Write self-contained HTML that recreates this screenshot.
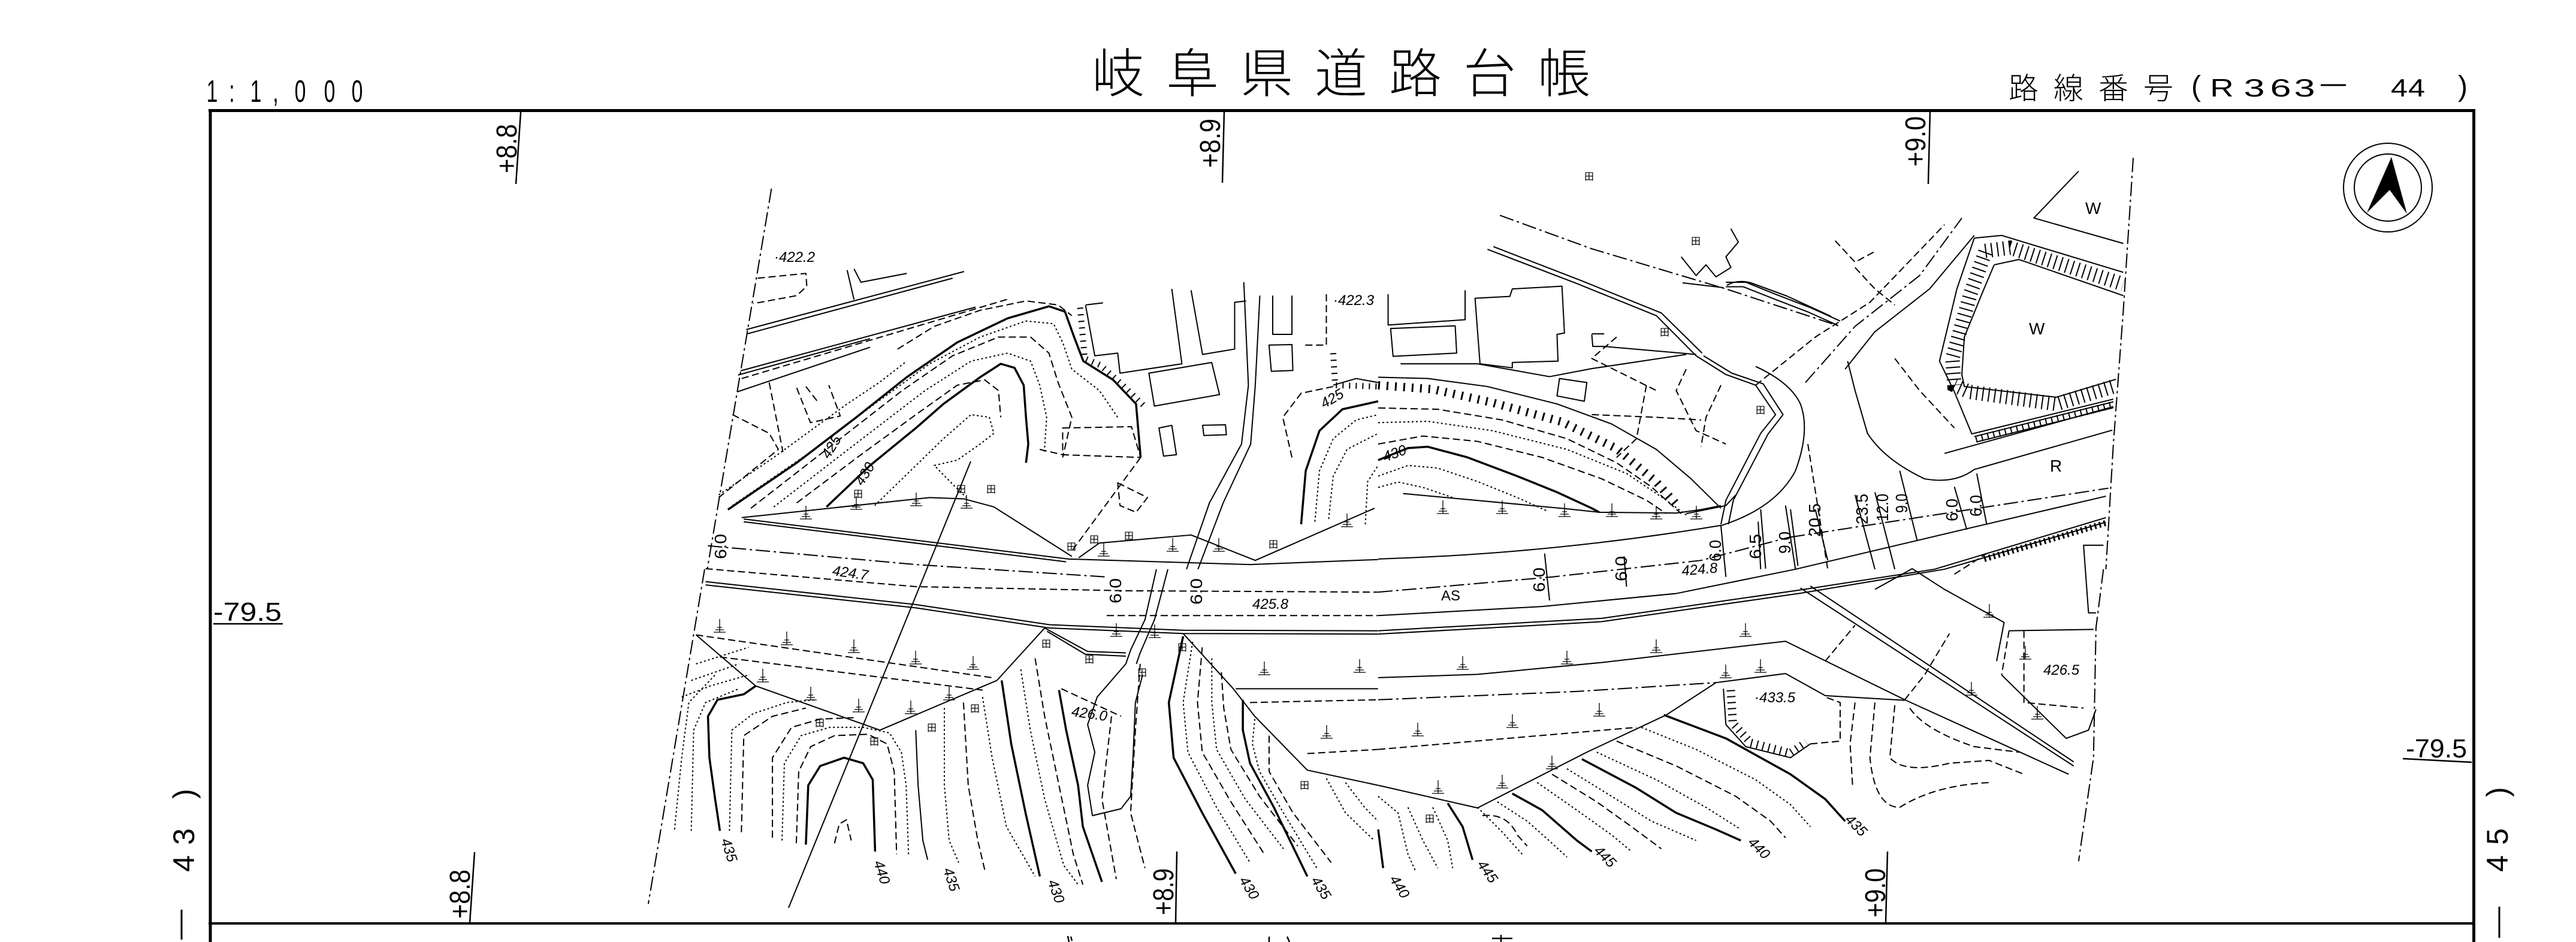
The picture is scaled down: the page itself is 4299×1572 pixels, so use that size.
<!DOCTYPE html>
<html><head><meta charset="utf-8">
<style>
html,body{margin:0;padding:0;background:#fff;}
body{width:4299px;height:1572px;overflow:hidden;}
svg{display:block;}
.l{fill:none;stroke:#000;stroke-width:2;vector-effect:non-scaling-stroke;stroke-linejoin:round;}
.b{stroke-width:3.5;}
.d{stroke-dasharray:12 6;}
.o{stroke-dasharray:3 4;}
.dd{stroke-dasharray:24 6 4 6;}
.h{fill:none;stroke:#000;vector-effect:non-scaling-stroke;stroke-linecap:butt;}
.t{font-family:"Liberation Sans","Noto Sans CJK JP",sans-serif;fill:#000;}
.m{font-family:"Liberation Sans",sans-serif;font-style:italic;fill:#000;font-size:24px;}
.n{font-family:"Liberation Sans",sans-serif;fill:#000;font-size:28px;}
.k{font-family:"Liberation Sans","Noto Sans CJK JP",sans-serif;fill:#000;font-size:16px;}
</style></head><body>
<svg width="4299" height="1572" viewBox="0 0 4299 1572" xmlns="http://www.w3.org/2000/svg">
<defs>
<g id="tk"><path d="M0,-22 V0 M-10,0 H10 M-7,-4 H7 M-4,-8 H4" stroke="#000" stroke-width="1.3" fill="none"/></g>
</defs>
<rect width="4299" height="1572" fill="#fff"/>

<!-- FRAME -->
<line x1="348" y1="184.5" x2="4131" y2="184.5" stroke="#000" stroke-width="5"/>
<line x1="351" y1="182" x2="351" y2="1572" stroke="#000" stroke-width="5"/>
<line x1="4128.5" y1="182" x2="4128.5" y2="1572" stroke="#000" stroke-width="5"/>
<line x1="348" y1="1541" x2="4131" y2="1541" stroke="#000" stroke-width="4"/>

<!-- HEADER TEXT -->
<g class="t" font-size="52">
<text transform="translate(354,170) scale(0.65,1)" text-anchor="middle">1</text>
<text transform="translate(387,170) scale(0.65,1)" text-anchor="middle">:</text>
<text transform="translate(427,170) scale(0.65,1)" text-anchor="middle">1</text>
<text transform="translate(460,170) scale(0.65,1)" text-anchor="middle">,</text>
<text transform="translate(501,170) scale(0.65,1)" text-anchor="middle">0</text>
<text transform="translate(550,170) scale(0.65,1)" text-anchor="middle">0</text>
<text transform="translate(596,170) scale(0.65,1)" text-anchor="middle">0</text>
</g>
<text class="t" font-size="88" font-weight="300" x="1822 1946 2070 2194 2318 2442 2566" y="154">岐阜県道路台帳</text>
<text class="t" font-size="50" font-weight="300" x="3352 3427 3502 3577" y="165">路線番号</text>
<g class="t" font-size="42">
<text x="3657" y="160" font-size="48">(</text>
<text transform="translate(3708,161) scale(1.3,1)" text-anchor="middle">R</text>
<text transform="translate(3762,161) scale(1.5,1)" text-anchor="middle">3</text>
<text transform="translate(3806,161) scale(1.5,1)" text-anchor="middle">6</text>
<text transform="translate(3846,161) scale(1.5,1)" text-anchor="middle">3</text>
<text transform="translate(4004,161) scale(1.2,1)" text-anchor="middle">4</text>
<text transform="translate(4033,161) scale(1.2,1)" text-anchor="middle">4</text>
<text x="4102" y="160" font-size="48">)</text>
</g>
<line x1="3873" y1="142" x2="3915" y2="142" stroke="#000" stroke-width="3"/>

<!-- North arrow -->
<circle cx="3985" cy="313" r="74" fill="none" stroke="#000" stroke-width="2"/>
<circle cx="3985" cy="313" r="56" fill="none" stroke="#000" stroke-width="2"/>
<polygon points="3991,262 3950,355 3988,317 4017,357" fill="#000"/>

<!-- Side labels -->
<g class="t" font-size="50">
<text transform="translate(324,1455) rotate(-90)">4</text>
<text transform="translate(324,1410) rotate(-90)">3</text>
<text transform="translate(324,1333) rotate(-90)">)</text>
<text transform="translate(4185,1455) rotate(-90)">4</text>
<text transform="translate(4185,1410) rotate(-90)">5</text>
<text transform="translate(4185,1330) rotate(-90)">)</text>
</g>
<line x1="303" y1="1518" x2="303" y2="1568" stroke="#000" stroke-width="3"/>
<line x1="4171" y1="1513" x2="4171" y2="1565" stroke="#000" stroke-width="3"/>

<!-- Station labels -->
<g class="t" font-size="48">
<text transform="translate(862,289) rotate(-90)" textLength="82" lengthAdjust="spacingAndGlyphs">+8.8</text>
<text transform="translate(2036,280) rotate(-90)" textLength="82" lengthAdjust="spacingAndGlyphs">+8.9</text>
<text transform="translate(3213,278) rotate(-90)" textLength="84" lengthAdjust="spacingAndGlyphs">+9.0</text>
<text transform="translate(784,1533) rotate(-90)" textLength="82" lengthAdjust="spacingAndGlyphs">+8.8</text>
<text transform="translate(1958,1527) rotate(-90)" textLength="78" lengthAdjust="spacingAndGlyphs">+8.9</text>
<text transform="translate(3146,1531) rotate(-90)" textLength="82" lengthAdjust="spacingAndGlyphs">+9.0</text>
</g>
<g stroke="#000" stroke-width="2.5" fill="none">
<path d="M869,187 L861,307"/>
<path d="M2043,186 L2040,305"/>
<path d="M3221,186 L3218,307"/>
<path d="M792,1422 L784,1540"/>
<path d="M1964,1421 L1962,1540"/>
<path d="M3150,1421 L3147,1540"/>
<path d="M356,1041 L472,1041"/>
<path d="M4010,1266 L4125,1272"/>
<path d="M1782,1562 L1784,1572 M1787,1563 L1789,1570 M2118,1563 L2118,1572 M2148,1563 L2152,1572 M2490,1566 L2524,1566 M2505,1560 L2505,1572"/>
</g>
<text class="t" font-size="44" x="356" y="1036" textLength="114" lengthAdjust="spacingAndGlyphs">-79.5</text>
<text class="t" font-size="44" x="4015" y="1264" textLength="102" lengthAdjust="spacingAndGlyphs">-79.5</text>

<!-- ===== MAP: Z3 region (top-left) ===== -->
<g transform="matrix(0.7653 0 0 0.4464 1100 250)">
<path class="l dd" d="M245,145 L105,1568"/>
<path class="l d" d="M215,480 L320,462 L322,510 L300,545 L205,575"/>
<path class="l" d="M410,450 L425,560 M425,445 L440,495 L540,462"/>
<path class="l" d="M190,672 L665,455 M192,688 L640,480"/>
<path class="l" d="M178,826 L690,588 M172,842 L460,706"/>
<path class="l d" d="M180,855 L765,556"/>
<path class="l" d="M170,905 L460,738"/>
<path class="l d" d="M160,990 L240,1060 L260,1120 L130,1300 M240,870 L270,1130 M300,890 L330,1020 L395,995 L370,880 M320,885 L345,940"/>
<path class="l b" d="M150,1345 L300,1170 L430,1000 L540,850 L650,720 L760,630 L850,585 L885,605 L905,700 L925,790 L990,860 L1040,950 L1050,1150"/>
<path class="l b" d="M365,1335 L460,1180 L560,1040 L620,950 L700,850 L745,800 L775,815 L795,880 L800,1000 L805,1100 L800,1170"/>
<path class="l o" d="M160,1330 L330,1130 L470,950 L590,800 L700,700 L800,640 L860,650 L880,720 L900,820 L960,900 L1000,1000"/>
<path class="l d" d="M200,1340 L380,1100 L530,900 L640,770 L740,700 L810,700 L850,760 L870,870 L900,1000 L880,1150"/>
<path class="l o" d="M250,1335 L420,1110 L580,900 L680,790 L760,760 L810,790 L830,880 L845,1000 L840,1130"/>
<path class="l d" d="M300,1320 L440,1140 L560,990 L650,880 L710,860 L740,900 L745,1000"/>
<path class="l o" d="M470,1330 L560,1180 L620,1080 L680,990 L720,1000 L730,1060 L700,1100 L650,1160 L600,1180 L640,1250 L670,1300"/>
<path class="l o" d="M130,1290 L250,1150 L330,1050 L410,950 L480,870 L540,790"/>
<path class="l d" d="M520,745 L600,660 L700,600 L800,565 L870,580 L900,620"/>
<path class="h" style="stroke-width:10;stroke-dasharray:2 9" d="M918,590 L928,780 L962,805 L1010,878 L1062,965"/>
<path class="l" d="M930,580 L968,572 M930,582 L950,770 L1000,760 L1005,835 L1140,800 L1118,520"/>
<path class="l" d="M1160,525 L1185,765 L1255,745 L1255,570 L1280,565"/>
<path class="l" d="M1068,835 L1205,795 L1222,915 L1080,958 Z"/>
<path class="l" d="M1090,1040 L1118,1030 L1128,1140 L1100,1145 Z M1185,1030 L1235,1028 L1237,1065 L1188,1068 Z M1330,730 L1380,728 L1382,825 L1335,828 Z"/>
<path class="l" d="M1338,545 L1338,690 L1380,690 L1380,545"/>
<path class="l d" d="M1455,540 L1455,730 L1405,730 M880,1040 L1030,1035 L1050,1150 L880,1140 Z M830,1120 L880,1140 M1000,1245 L1065,1300 L1040,1355 L1005,1330 Z M1050,1150 L900,1500"/>
<path class="l" d="M1275,495 L1285,880 L1270,1100 L1200,1320 L1150,1568 M1310,545 L1300,880 L1290,1100 L1230,1320 L1175,1568"/>
<path class="l" d="M1470,880 L1520,855 L1568,870"/>
<path class="l b" d="M1400,1400 L1410,1200 L1440,1050 L1490,970 L1568,940"/>
<path class="l o" d="M1430,1390 L1440,1200 L1470,1080 L1520,1010 L1568,990 M1460,1380 L1470,1220 L1500,1120 L1568,1060 M1540,1400 L1545,1240 L1568,1180"/>
<path class="l d" d="M1380,1150 L1360,1000 L1400,910 L1470,885"/>
<path class="h" style="stroke-width:10;stroke-dasharray:2 9" d="M1470,760 L1474,880 L1568,885"/>
<path class="l" d="M180,1375 L590,1300 L665,1305 L730,1335 L900,1520"/>
<path class="l" d="M915,1525 L960,1470 L1160,1440 L1300,1535 L1560,1340"/>
</g>

<!-- ===== MAP: Z4 region (top-right) ===== -->
<g transform="matrix(0.829 0 0 0.4464 2300 250)">
<path class="l dd" d="M1520,30 L1500,600 L1480,1100 L1465,1568"/>
<path class="l" d="M1410,80 L1320,255 L1500,350"/>
<path class="l" d="M1200,330 L1255,320 L1500,458 M1200,330 L1165,520 L1130,790 L1160,905 L1195,1062 L1480,932"/>
<path class="l" d="M1240,430 L1290,410 L1500,545 M1240,430 L1215,540 L1180,700 L1175,840 L1180,885 L1365,925 L1485,858"/>
<path class="h" style="stroke-width:24;stroke-dasharray:2 8" d="M1222,378 L1272,366 L1500,502 M1222,382 L1192,540 L1156,780 L1160,880 L1190,905 L1365,950 L1485,882"/>
<path class="l" d="M1200,1072 L1480,942 M1205,1092 L1480,964"/>
<path class="h" style="stroke-width:12;stroke-dasharray:2 8" d="M1203,1082 L1480,953"/>
<path class="l" d="M940,820 L1000,680 L1110,520 L1200,320"/>
<path class="l dd" d="M860,870 L960,660 L1090,470 L1175,255"/>
<path class="l d" d="M760,880 L880,700 L990,570 L1140,280"/>
<path class="l" d="M220,372 L400,500 L560,620 L640,770 M232,362 L410,490 L570,610 L652,760"/>
<path class="l dd" d="M245,245 L430,370 L700,520 L930,660"/>
<path class="l" d="M700,495 L740,495 L800,540 L870,590 L930,640 M700,512 L735,512 L795,556 L865,606 L925,656"/>
<path class="l" d="M640,770 L700,840 L760,880 L800,990 L770,1060 L700,1310 L690,1400 M655,770 L712,835 L775,875 L815,990 L785,1062 L715,1310 L705,1400"/>
<path class="l" d="M690,1405 Q800,1340 840,1200 Q870,1050 850,950 Q830,870 760,810"/>
<path class="l" d="M945,790 L960,900 L985,1060 Q1020,1160 1100,1230 Q1160,1250 1200,1195 L1478,1048"/>
<path class="l" d="M1140,1135 L1480,960"/>
<path class="l dd" d="M830,1448 L1470,1265"/>
<path class="l" d="M840,1568 L1200,1410 L1465,1295"/>
<path class="l" d="M1120,1568 L1465,1375 M1140,1568 L1465,1392"/>
<path class="h" style="stroke-width:10;stroke-dasharray:3 5" d="M1220,1530 L1465,1395"/>
<path class="l" d="M0,850 L100,855 L220,885 L360,950 L470,1025 L560,1120 L630,1230 L690,1340"/>
<path class="h" style="stroke-width:14;stroke-dasharray:3 11" d="M0,880 L110,895 L230,945 L370,1017 L480,1117 L560,1242 L605,1335"/>
<path class="l d" d="M0,965 L120,970 L250,1010 L380,1080 L480,1170 L550,1260 L610,1360"/>
<path class="l o" d="M0,1020 L100,1015 L230,1050 L380,1120 L500,1210 L580,1310 L620,1365"/>
<path class="l d" d="M0,1100 L90,1070 L200,1090 L330,1150 L450,1230 L540,1310 L580,1360"/>
<path class="l b" d="M0,1160 L60,1115 L100,1110 L180,1150 L280,1220 L360,1280 L430,1340 L445,1355"/>
<path class="l o" d="M0,1220 L60,1180 L120,1190 L200,1240 L280,1300 L340,1350 M0,1262 L40,1242 L90,1262 L150,1300"/>
<path class="l" d="M50,1285 L380,1342 L445,1355 L600,1358 L650,1345 L690,1330 M620,1360 L700,1330 L720,1290"/>
<path class="l" d="M20,540 L20,655 L175,635 L175,525"/>
<path class="l" d="M25,668 L155,658 L158,760 L30,772 Z"/>
<path class="l" d="M195,555 L265,548 L270,520 L370,510 L375,685 L360,690 L362,790 L270,795 L270,815 L205,800 Z"/>
<path class="l" d="M430,688 L455,688 M430,690 L432,735 L455,735 L640,765"/>
<path class="l" d="M45,800 L200,800 L345,848 L430,818 L620,765"/>
<path class="l" d="M365,855 L420,870 L415,940 L360,920 Z"/>
<path class="l" d="M610,400 L640,470 L660,430 L680,475 L710,440 L700,400 L725,345 L710,295"/>
<path class="l d" d="M430,990 L560,1000 L650,1010 M540,880 L520,1080 L480,1150 M620,820 L600,900 L640,1050 L700,1100 M690,880 L660,1000 L650,1110 M480,700 L430,780 L560,900 M920,340 L960,420 L1000,380 M960,440 L1000,520 L1040,580 M1040,780 L1090,900 L1160,1040"/>
<path class="l" d="M765,1390 L770,1568 M820,1330 L840,1568 M960,1290 L1000,1568 M1000,1280 L1040,1568 M1050,1200 L1085,1460 M1160,1260 L1185,1420 M1205,1210 L1225,1400"/>
<path class="l d" d="M865,1100 L905,1568"/>
</g>

<!-- extra junction loop detail (original coords) -->
<path class="l" d="M2808,472 L2876,480 M2882,476 Q2900,466 2922,472 L2982,494 L3056,528"/>

<!-- ===== MAP: Z5 region (bottom-left) ===== -->
<g transform="matrix(0.797 0 0 0.4605 1050 850)">
<path class="l dd" d="M158,217 L40,1430"/>
<path class="l" d="M240,35 L920,180 L1300,200 L1568,182 M240,45 L915,190"/>
<path class="l dd" d="M165,132 L600,200 L1000,245"/>
<path class="l d" d="M160,215 L600,280 L1040,295 L1568,300"/>
<path class="l" d="M160,262 L600,345 L880,418 L1160,438 L1568,440 M160,274 L600,357 L880,430 L1160,450 L1568,452"/>
<path class="l d" d="M1000,385 L1568,385"/>
<path class="l" d="M140,455 L265,640 L525,800 L770,620 L870,430"/>
<path class="l d" d="M140,455 L760,610 M190,535 L740,655"/>
<path class="l" d="M870,430 L960,515 L1040,520 M875,442 L955,525 L1040,532"/>
<path class="l" d="M1104,217 L1080,400 L1050,510 L1040,560 M1128,217 L1100,400 L1070,520 L1062,560"/>
<path class="l" d="M1160,450 L1265,650 L1310,750 L1420,945 L1568,1000"/>
<path class="l" d="M1270,650 L1568,650"/>
<path class="l d" d="M1300,700 L1568,690 M1420,885 L1568,870"/>
<path class="l b" d="M265,640 L240,670 L185,690 L165,750 L168,900 L180,1050 L190,1165"/>
<path class="l b" d="M370,1215 L375,1000 L400,930 L450,900 L490,920 L510,980 L515,1240"/>
<path class="l d" d="M350,1210 L355,950 L380,860 L430,820 L500,815 L540,850 L555,950 L560,1250"/>
<path class="l o" d="M320,1200 L325,920 L360,820 L420,790 L490,790 L545,810 L570,880 L580,1000 L585,1250"/>
<path class="l d" d="M300,1190 L300,900 L340,790 L400,760 L470,755"/>
<path class="l o" d="M210,1165 L215,800 L260,740 L330,700 L390,690"/>
<path class="l d" d="M235,1170 L240,820 L300,750 L370,720"/>
<path class="l d" d="M430,1210 L440,1140 L455,1125 L465,1200"/>
<path class="l o" d="M130,1165 L135,800 L160,700 L230,650 M95,1160 L110,900 L125,700 L180,600 M110,680 L170,640 L250,600 M140,560 L250,500 M130,620 L230,560"/>
<path class="l" d="M600,800 L605,1000 L615,1200 L625,1270"/>
<path class="l o" d="M660,720 L660,1000 L670,1200 L690,1280"/>
<path class="l d" d="M700,700 L710,1000 L730,1200 L745,1310"/>
<path class="l o" d="M740,680 L760,900 L790,1150 L850,1330"/>
<path class="l b" d="M780,620 L800,850 L830,1100 L860,1330"/>
<path class="l o" d="M820,580 L840,800 L870,1050 L910,1290 L940,1360"/>
<path class="l d" d="M850,540 L870,750 L900,1000 L930,1250 L950,1360"/>
<path class="l b" d="M900,655 L915,800 L940,1000 L950,1150 L990,1350"/>
<path class="l" d="M1040,560 L980,680 L960,780 L975,880 L960,1000 L970,1110 L1030,1085 L1050,1040 L1055,900 L1060,700 L1075,600"/>
<path class="l d" d="M1010,750 L1000,900 L990,1050 L1020,1340 M1070,560 L1060,800 L1050,1100 L1080,1300"/>
<path class="l d" d="M905,650 L1030,750"/>
<path class="l b" d="M1160,460 L1130,700 L1140,900 L1200,1100 L1270,1320"/>
<path class="l o" d="M1180,480 L1160,700 L1170,880 L1230,1080 L1300,1280"/>
<path class="l d" d="M1200,500 L1190,700 L1200,880 L1260,1060 L1330,1250"/>
<path class="l o" d="M1220,540 L1220,700 L1230,870 L1290,1050 L1370,1230"/>
<path class="l d" d="M1240,590 L1245,720 L1260,870 L1320,1040 L1400,1220"/>
<path class="l b" d="M1285,690 L1285,800 L1300,920 L1350,1080 L1420,1330"/>
<path class="l o" d="M1310,760 L1305,850 L1320,950 L1370,1100 L1440,1300"/>
<path class="l d" d="M1340,820 L1340,950 L1390,1100 L1470,1280"/>
<path class="l o" d="M1460,975 L1500,1100 L1560,1200 M1500,990 L1540,1080 L1568,1130"/>
</g>

<!-- ===== MAP: Z6 region (bottom-right) ===== -->
<g transform="matrix(0.829 0 0 0.4605 2300 850)">
<path class="l" d="M0,180 Q350,160 690,58"/>
<path class="l dd" d="M0,300 L350,245 L650,185 L830,100"/>
<path class="l" d="M0,385 L330,352 L600,305 L840,217"/>
<path class="l" d="M0,440 L450,395 L850,292 L1120,217 M0,452 L450,407 L850,304 L1140,217"/>
<path class="l" d="M335,160 L345,330 M495,170 L500,280 M690,60 L700,245 M770,0 L780,215 M830,0 L845,205 M880,0 L905,185"/>
<path class="l" d="M0,610 L200,598 L450,555 L820,478 L1060,690 L1390,960"/>
<path class="l" d="M820,595 L900,675 L1060,692"/>
<path class="l dd" d="M0,690 L400,660 L680,628"/>
<path class="l d" d="M0,870 L520,790"/>
<path class="l" d="M0,1000 L200,1082 L420,880 L580,745 L680,628 L820,595"/>
<path class="l" d="M850,285 L1400,930 M870,278 L1400,915"/>
<path class="l" d="M1000,290 L1075,215 L1140,290 L1260,410 L1245,550 M1270,440 L1440,435 M1255,600 L1385,830 L1430,800 L1445,725"/>
<path class="l" d="M1460,130 L1420,130 L1430,375 L1445,375"/>
<path class="l d" d="M1270,440 L1255,600 M1060,690 L1100,600 L1150,450 M900,550 L960,420 M1300,440 L1300,700 L1420,720 M1160,235 L1225,160"/>
<path class="l dd" d="M1460,217 L1445,430 L1440,900 L1410,1275"/>
<path class="l" d="M695,650 L700,780 L740,860 L830,900 L870,850"/>
<path class="h" style="stroke-width:14;stroke-dasharray:2 8" d="M710,655 L714,775 L750,846 L830,884 L862,845"/>
<path class="l d" d="M870,850 L930,840 L930,700 L900,680"/>
<path class="l b" d="M575,745 L700,830 L830,960 L900,1050 L940,1130"/>
<path class="l o" d="M530,790 L640,870 L760,980 L830,1070 L870,1150"/>
<path class="l d" d="M480,840 L600,930 L720,1040 L790,1130 L820,1190"/>
<path class="l o" d="M440,880 L560,980 L660,1080 L730,1160"/>
<path class="l b" d="M410,905 L520,1010 L600,1100 L680,1160 L730,1200"/>
<path class="l o" d="M380,940 L470,1040 L550,1130 L640,1200"/>
<path class="l d" d="M350,960 L440,1060 L510,1150 L570,1230"/>
<path class="l o" d="M320,990 L400,1090 L470,1180 L510,1240"/>
<path class="l b" d="M270,1030 L330,1090 L400,1200 L430,1240"/>
<path class="l o" d="M240,1060 L300,1130 L350,1210 L380,1260 M200,1080 L250,1170 L290,1250"/>
<path class="l b" d="M140,1065 L170,1150 L190,1270"/>
<path class="l o" d="M110,1080 L140,1200 L150,1300 M60,1080 L90,1200 L120,1300 M0,1040 L40,1100 L60,1250 L75,1310"/>
<path class="l b" d="M0,1160 L10,1300"/>
<path class="l d" d="M210,1110 Q260,1100 280,1180 L300,1220"/>
<path class="l d" d="M960,700 L950,850 L955,1000 M1000,700 L990,900 Q1000,1080 1050,1080 Q1120,1000 1230,990 M1040,710 L1030,900 Q1060,960 1150,920 L1230,910 L1300,960 M1070,720 Q1100,800 1200,860 L1290,880"/>
</g>

<!-- long diagonal line -->
<path class="l" d="M1620,770 L1316,1515"/>

<!-- slope tick symbols -->
<g>
<use href="#tk" x="1201" y="1055"/><use href="#tk" x="1313" y="1076"/><use href="#tk" x="1425" y="1089"/>
<use href="#tk" x="1528" y="1108"/><use href="#tk" x="1624" y="1117"/><use href="#tk" x="1273" y="1138"/>
<use href="#tk" x="1353" y="1168"/><use href="#tk" x="1433" y="1188"/><use href="#tk" x="1520" y="1191"/>
<use href="#tk" x="1584" y="1168"/><use href="#tk" x="2110" y="1126"/><use href="#tk" x="2269" y="1122"/>
<use href="#tk" x="2214" y="1232"/><use href="#tk" x="1863" y="1062"/><use href="#tk" x="1927" y="1064"/>
<use href="#tk" x="2441" y="1117"/><use href="#tk" x="2615" y="1108"/><use href="#tk" x="2764" y="1089"/>
<use href="#tk" x="2913" y="1062"/><use href="#tk" x="2366" y="1228"/><use href="#tk" x="2524" y="1214"/>
<use href="#tk" x="2669" y="1195"/><use href="#tk" x="2400" y="1324"/><use href="#tk" x="2507" y="1315"/>
<use href="#tk" x="2590" y="1283"/><use href="#tk" x="2880" y="1131"/><use href="#tk" x="2938" y="1122"/>
<use href="#tk" x="2408" y="857"/><use href="#tk" x="2507" y="857"/><use href="#tk" x="2611" y="862"/>
<use href="#tk" x="2690" y="862"/><use href="#tk" x="2764" y="866"/><use href="#tk" x="2831" y="866"/>
<use href="#tk" x="1429" y="850"/><use href="#tk" x="1529" y="844"/><use href="#tk" x="1613" y="848"/>
<use href="#tk" x="1842" y="928"/><use href="#tk" x="1957" y="920"/><use href="#tk" x="2034" y="920"/>
<use href="#tk" x="2248" y="879"/><use href="#tk" x="1345" y="866"/>
<use href="#tk" x="3320" y="1030"/><use href="#tk" x="3380" y="1100"/><use href="#tk" x="3290" y="1160"/><use href="#tk" x="3400" y="1200"/>
</g>

<!-- small symbols -->
<g class="k">
<text x="1596" y="822">田</text><text x="1646" y="822">田</text><text x="1424" y="830">田</text>
<text x="1876" y="900">田</text><text x="1818" y="906">田</text><text x="1780" y="918">田</text>
<text x="2117" y="914">田</text><text x="1738" y="1080">田</text><text x="1810" y="1106">田</text>
<text x="1898" y="1128">田</text><text x="1965" y="1086">田</text><text x="1360" y="1212">田</text>
<text x="1451" y="1243">田</text><text x="1619" y="1188">田</text><text x="1547" y="1220">田</text>
<text x="2169" y="1316">田</text><text x="2378" y="1372">田</text><text x="2644" y="300">田</text>
<text x="2770" y="560">田</text><text x="2930" y="690">田</text><text x="2822" y="408">田</text>
</g>

<!-- map labels -->
<g class="m">
<text x="1292" y="437">·422.2</text>
<text x="2225" y="509">·422.3</text>
<text transform="translate(1394,750) rotate(-58)" text-anchor="middle">425</text>
<text transform="translate(1450,795) rotate(-58)" text-anchor="middle">430</text>
<text transform="translate(2227,672) rotate(-30)" text-anchor="middle">425</text>
<text transform="translate(2330,764) rotate(-20)" text-anchor="middle">430</text>
<text transform="translate(1418,964) rotate(8)" text-anchor="middle">424.7</text>
<text x="2090" y="1016">425.8</text>
<text transform="translate(1817,1199) rotate(8)" text-anchor="middle">426.0</text>
<text x="2405" y="1002" style="font-style:normal">AS</text>
<text transform="translate(2837,958) rotate(-5)" text-anchor="middle">424.8</text>
<text x="2928" y="1172">·433.5</text>
<text x="3410" y="1126">426.5</text>
<text transform="translate(1209,1421) rotate(72)" text-anchor="middle">435</text>
<text transform="translate(1464,1458) rotate(72)" text-anchor="middle">440</text>
<text transform="translate(1580,1470) rotate(72)" text-anchor="middle">435</text>
<text transform="translate(1755,1490) rotate(70)" text-anchor="middle">430</text>
<text transform="translate(2078,1486) rotate(58)" text-anchor="middle">430</text>
<text transform="translate(2198,1486) rotate(58)" text-anchor="middle">435</text>
<text transform="translate(2329,1484) rotate(58)" text-anchor="middle">440</text>
<text transform="translate(2476,1459) rotate(55)" text-anchor="middle">445</text>
<text transform="translate(2673,1435) rotate(45)" text-anchor="middle">445</text>
<text transform="translate(2930,1421) rotate(45)" text-anchor="middle">440</text>
<text transform="translate(3092,1383) rotate(45)" text-anchor="middle">435</text>
</g>
<g class="n">
<text x="3480" y="357">W</text>
<text x="3386" y="558">W</text>
<text x="3421" y="787">R</text>
<text transform="translate(1212,933) rotate(-90)" textLength="42" lengthAdjust="spacingAndGlyphs">6.0</text>
<text transform="translate(1871,1007) rotate(-90)" textLength="42" lengthAdjust="spacingAndGlyphs">6.0</text>
<text transform="translate(2006,1009) rotate(-90)" textLength="44" lengthAdjust="spacingAndGlyphs">6.0</text>
<text transform="translate(2578,988) rotate(-90)" textLength="41" lengthAdjust="spacingAndGlyphs">6.0</text>
<text transform="translate(2715,970) rotate(-90)" textLength="42" lengthAdjust="spacingAndGlyphs">6.0</text>
<text transform="translate(2872,937) rotate(-90)" textLength="36" lengthAdjust="spacingAndGlyphs">6.0</text>
<text transform="translate(2939,933) rotate(-90)" textLength="42" lengthAdjust="spacingAndGlyphs">6.5</text>
<text transform="translate(2988,924) rotate(-90)" textLength="37" lengthAdjust="spacingAndGlyphs">9.0</text>
<text transform="translate(3038,896) rotate(-90)" textLength="56" lengthAdjust="spacingAndGlyphs">20.5</text>
<text transform="translate(3117,875) rotate(-90)" textLength="51" lengthAdjust="spacingAndGlyphs">23.5</text>
<text transform="translate(3151,870) rotate(-90)" textLength="46" lengthAdjust="spacingAndGlyphs">12.0</text>
<text transform="translate(3183,856) rotate(-90)" textLength="32" lengthAdjust="spacingAndGlyphs">9.0</text>
<text transform="translate(3267,870) rotate(-90)" textLength="38" lengthAdjust="spacingAndGlyphs">6.0</text>
<text transform="translate(3307,862) rotate(-90)" textLength="36" lengthAdjust="spacingAndGlyphs">6.0</text>
</g>
</svg>
</body></html>
